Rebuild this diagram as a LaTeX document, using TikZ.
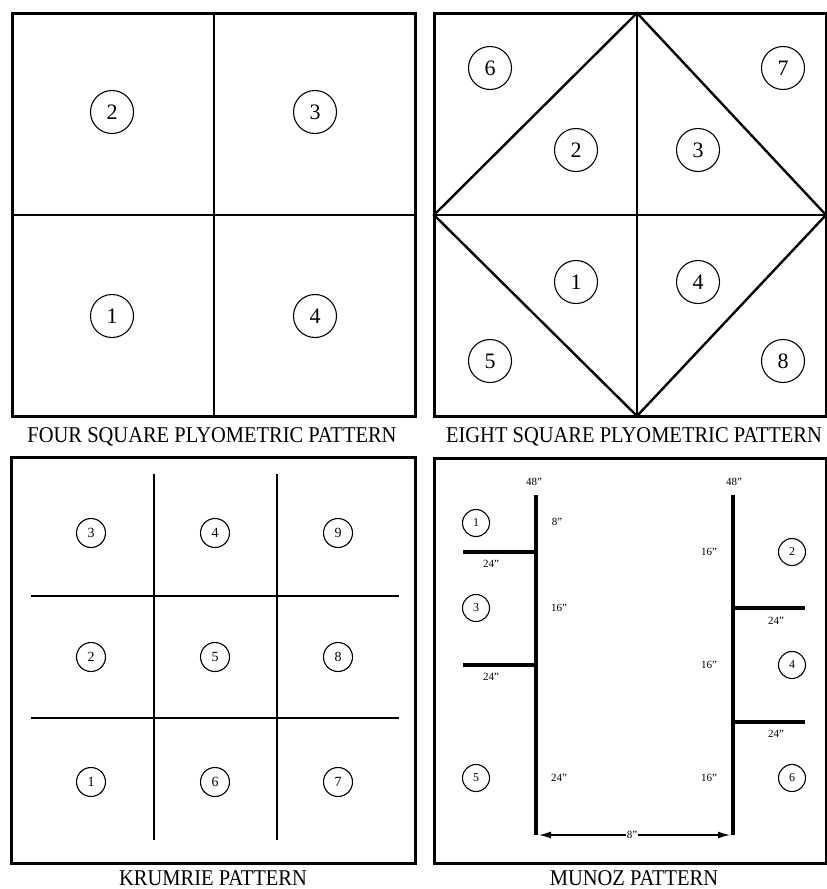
\documentclass[tikz,border=0pt]{standalone}
\usepackage{fontspec}
\setmainfont{Liberation Serif}
\usetikzlibrary{arrows.meta}

\begin{document}
\begin{tikzpicture}[x=1pt,y=-1pt,
  frame/.style={line width=3pt},
  bar/.style={line width=2.4pt},
  thickbar/.style={line width=3.4pt},
  bignum/.style={circle,draw,line width=1.1pt,minimum size=43pt,inner sep=0pt,font=\fontsize{22}{22}\selectfont},
  midnum/.style={circle,draw,line width=1.1pt,minimum size=29pt,inner sep=0pt,font=\fontsize{14}{14}\selectfont},
  smallnum/.style={circle,draw,line width=1.1pt,minimum size=27pt,inner sep=0pt,font=\fontsize{12}{12}\selectfont},
  dim/.style={inner sep=1pt,font=\fontsize{11}{11}\selectfont},
  caption/.style={font=\fontsize{20.5}{20.5}\selectfont,yscale=1.1}]
\useasboundingbox (0,0) rectangle (827,889);

% four square
\draw[frame] (12,13) rectangle (415,416);
\draw[bar] (214,13) -- (214,416);
\draw[bar] (12,215) -- (415,215);
\node[bignum] (fs2) at (112,112) {2};
\node[bignum] (fs3) at (315,112) {3};
\node[bignum] (fs1) at (112,316) {1};
\node[bignum] (fs4) at (315,316) {4};
\node[caption] (fscap) at (212,437) {FOUR SQUARE PLYOMETRIC PATTERN};

% eight square
\draw[frame] (434,13) rectangle (826,416);
\draw[bar] (637,13) -- (637,416);
\draw[bar] (434,215) -- (826,215);
\draw[bar,line join=miter] (637,13) -- (826,215) -- (637,416) -- (434,215) -- cycle;
\node[bignum] (es6) at (490,68) {6};
\node[bignum] (es7) at (783,68) {7};
\node[bignum] (es2) at (576,150) {2};
\node[bignum] (es3) at (698,150) {3};
\node[bignum] (es1) at (576,282) {1};
\node[bignum] (es4) at (698,282) {4};
\node[bignum] (es5) at (490,361) {5};
\node[bignum] (es8) at (783,361) {8};
\node[caption] (escap) at (634,437) {EIGHT SQUARE PLYOMETRIC PATTERN};

% krumrie
\draw[frame] (11,457) rectangle (415,863);
\foreach \x in {154,277}
  \draw[bar] (\x,474) -- (\x,840);
\foreach \y in {596,718}
  \draw[bar] (31,\y) -- (399,\y);
\foreach \n/\x/\y in {3/91/533,4/215/533,9/338/533,
                      2/91/657,5/215/657,8/338/657,
                      1/91/782,6/215/782,7/338/782}
  \node[midnum] (kr\n) at (\x,\y) {\n};
\node[caption] (krcap) at (213,878) {KRUMRIE PATTERN};

% munoz
\draw[frame] (434,458) rectangle (826,863);
\draw[thickbar] (536,495) -- (536,835);
\draw[thickbar] (733,495) -- (733,835);
\draw[thickbar] (463,552) -- (536,552);
\draw[thickbar] (463,665) -- (536,665);
\draw[thickbar] (733,608) -- (805,608);
\draw[thickbar] (733,722) -- (805,722);
\node[dim] (mt1) at (534,482) {48''};
\node[dim] (mt2) at (734,482) {48''};
\node[dim] (ml1) at (557,522) {8''};
\node[dim] (ml2) at (559,608) {16''};
\node[dim] (ml3) at (559,778) {24''};
\node[dim] (mb1) at (491,564) {24''};
\node[dim] (mb2) at (491,677) {24''};
\node[dim] (mr1) at (709,552) {16''};
\node[dim] (mr2) at (709,665) {16''};
\node[dim] (mr3) at (709,778) {16''};
\node[dim] (mb3) at (776,621) {24''};
\node[dim] (mb4) at (776,734) {24''};
\node[smallnum] (mu1) at (476,523) {1};
\node[smallnum] (mu3) at (476,608) {3};
\node[smallnum] (mu5) at (476,778) {5};
\node[smallnum] (mu2) at (792,552) {2};
\node[smallnum] (mu4) at (792,665) {4};
\node[smallnum] (mu6) at (792,778) {6};
\coordinate (aL) at (539,835);
\coordinate (aR) at (730,835);
\node[dim,fill=white] (mgap) at (632,835) {8''};
\draw[line width=1.2pt,-{Latex[length=12pt,width=7pt]}] (mgap) -- (aL);
\draw[line width=1.2pt,-{Latex[length=12pt,width=7pt]}] (mgap) -- (aR);
\node[caption] (mucap) at (634,878) {MUNOZ PATTERN};
\end{tikzpicture}
\end{document}
